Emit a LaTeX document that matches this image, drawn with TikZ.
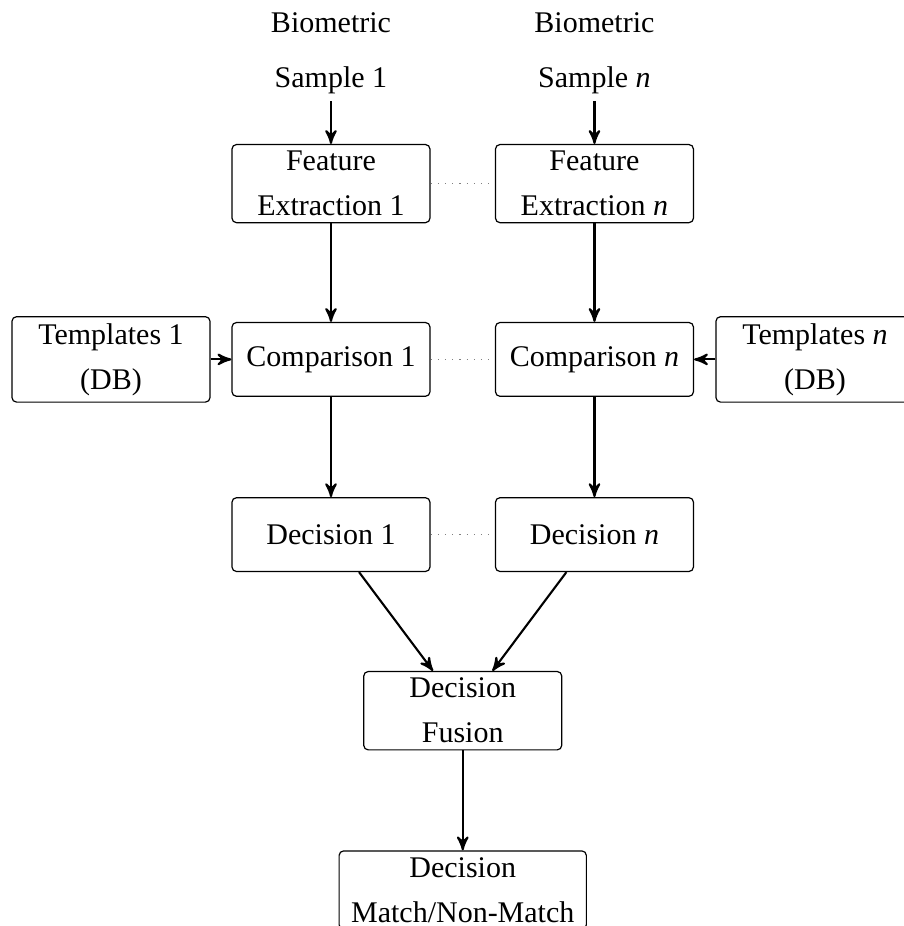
\documentclass[tikz,border=0pt]{standalone}
\usepackage{fontspec}
\setmainfont{Liberation Serif}
\usepackage{tikz}
\usetikzlibrary{shapes,arrows}
\tikzstyle{block} = [rectangle, draw, rounded corners=1.5pt, align=center,
    font=\fontsize{10}{15}\selectfont, inner xsep=4pt, inner ysep=2.2pt,
    minimum width=66pt, minimum height=24.6pt]
\tikzstyle{sample} = [align=center, font=\fontsize{10}{18.4}\selectfont, inner sep=2.2pt]
\tikzstyle{line} = [draw, line width=0.7pt, -stealth']
\tikzstyle{link} = [draw, gray, dotted]

\begin{document}
\begin{tikzpicture}[node distance = 58.6pt, auto]
    \useasboundingbox (-110.33pt,17.8pt) rectangle (191pt,-290.87pt);
    % Place nodes
    \node [sample] (sample1) {Biometric\\Sample 1};
    \node [sample, right of=sample1, node distance=87.83pt] (samplen) {Biometric\\Sample \textit{n}};
    \node [block, below of=sample1, node distance=43.4pt] (feat1) {Feature\\Extraction 1};
    \node [block, below of=samplen, node distance=43.4pt] (featn) {Feature\\Extraction \textit{n}};
    \node [block, below of=feat1] (comp1) {Comparison 1};
    \node [block, below of=featn] (compn) {Comparison \textit{n}};
    \node [block, left of=comp1, node distance=73.33pt] (templ1) {Templates 1\\(DB)};
    \node [block, right of=compn, node distance=73.5pt] (templn) {Templates \textit{n}\\(DB)};
    \node [block, below of=comp1, node distance=58.4pt] (dec1) {Decision 1};
    \node [block, below of=compn, node distance=58.4pt] (decn) {Decision \textit{n}};
    \node [block, below of=dec1, node distance=58.7pt, xshift=43.92pt] (fusion) {Decision\\Fusion};
    \node [block, below of=fusion, node distance=59.8pt] (result) {Decision\\Match/Non-Match};

    % Draw edges
    \path [line] (sample1) -- (feat1);
    \path [line] (samplen) -- (featn);
    \path [line] (feat1) -- (comp1);
    \path [line] (featn) -- (compn);
    \path [line] (templ1) -- (comp1);
    \path [line] (templn) -- (compn);
    \path [line] (comp1) -- (dec1);
    \path [line] (compn) -- (decn);
    \path [line] (dec1) -- (fusion);
    \path [line] (decn) -- (fusion);
    \path [line] (fusion) -- (result);
    \path [link] (feat1) -- (featn);
    \path [link] (comp1) -- (compn);
    \path [link] (dec1) -- (decn);
\end{tikzpicture}
\end{document}
